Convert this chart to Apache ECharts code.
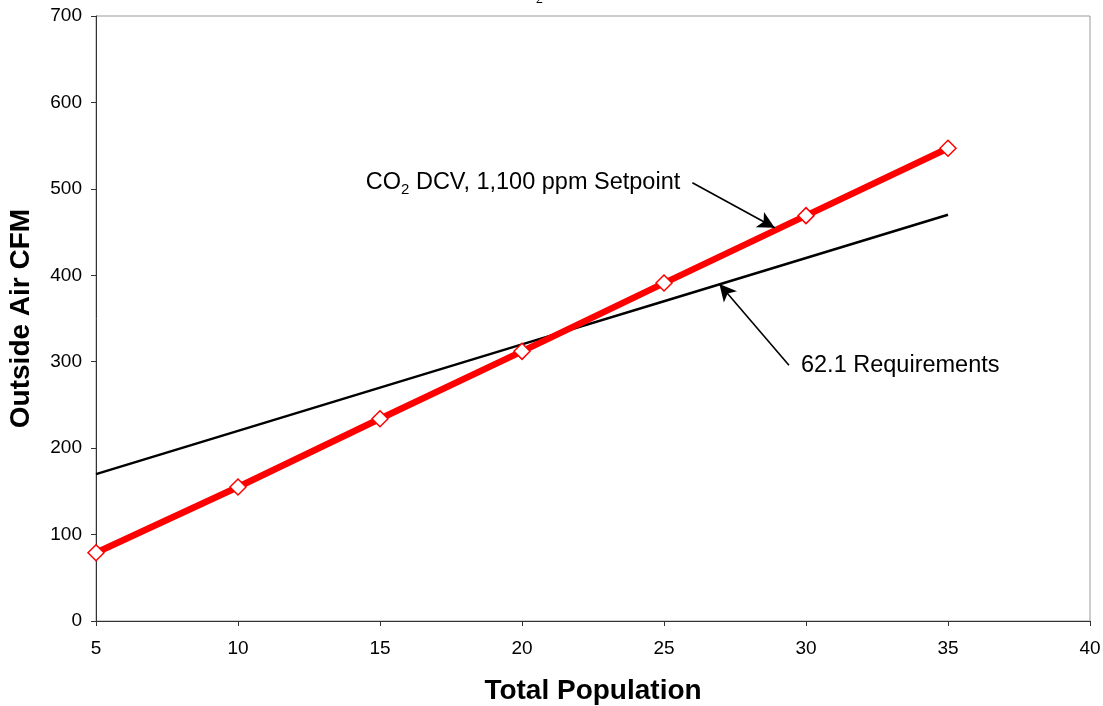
<!DOCTYPE html>
<html><head><meta charset="utf-8">
<script src="https://cdn.jsdelivr.net/npm/echarts@6/dist/echarts.min.js"></script>
<style>html,body{margin:0;padding:0;background:#fff}#c{width:1103px;height:706px}</style>
</head><body><div id="c"></div>
<script>
const population = [5, 10, 15, 20, 25, 30, 35];
const co2DcvCfm = [79, 155, 234, 312, 391, 469, 547];
const req621Cfm = [170, 220, 270, 320, 370, 420, 470];
const yTicks = [0, 100, 200, 300, 400, 500, 600, 700];
const xTicks = [5, 10, 15, 20, 25, 30, 35, 40];
const labelCo2 = {pos: [14.5, 507], arrowFrom: [26.0, 507], arrowTo: [28.9, 455]};
const label621 = {pos: [29.4, 296], arrowFrom: [29.4, 296], arrowTo: [26.95, 390]};

const font = '"Liberation Sans", Arial, sans-serif';
const chart = echarts.init(document.getElementById('c'));
const opt = {
  animation: false,
  backgroundColor: '#fff',
  grid: {left: 96, right: 13, top: 16, bottom: 85, containLabel: false, outerBoundsMode: 'none',
         show: true, borderColor: '#9a9a9a', borderWidth: 1},
  xAxis: {
    type: 'value', min: xTicks[0], max: xTicks[xTicks.length-1], interval: 5,
    name: 'Total Population', nameLocation: 'middle', nameGap: 56,
    nameTextStyle: {fontFamily: font, fontSize: 28, fontWeight: 'bold', color: '#000'},
    axisLine: {lineStyle: {color: '#333', width: 1}},
    axisTick: {show: true, length: 5, lineStyle: {color: '#333'}},
    axisLabel: {fontFamily: font, fontSize: 19, color: '#000', margin: 18},
    splitLine: {show: false}
  },
  yAxis: {
    type: 'value', min: yTicks[0], max: yTicks[yTicks.length-1], interval: 100,
    name: 'Outside Air CFM', nameLocation: 'middle', nameGap: 61,
    nameTextStyle: {fontFamily: font, fontSize: 28, fontWeight: 'bold', color: '#000'},
    axisLine: {show: true, lineStyle: {color: '#333', width: 1}},
    axisTick: {show: true, length: 5, lineStyle: {color: '#333'}},
    axisLabel: {fontFamily: font, fontSize: 19, color: '#000', margin: 14},
    splitLine: {show: false}
  },
  series: [
    {
      name: '62.1 Requirements', type: 'line',
      data: population.map((p, i) => [p, req621Cfm[i]]),
      symbol: 'none', lineStyle: {color: '#000', width: 2.5}, z: 2,
      markLine: {
        silent: true, symbol: ['none', 'arrow'], symbolSize: [13, 17],
        lineStyle: {color: '#000', width: 1.6, type: 'solid'}, label: {show: false},
        data: [[{coord: label621.arrowFrom}, {coord: label621.arrowTo}]]
      }
    },
    {
      name: 'CO2 DCV', type: 'line',
      data: population.map((p, i) => [p, co2DcvCfm[i]]),
      symbol: 'diamond', symbolSize: 16,
      itemStyle: {color: '#fff', borderColor: '#ff0000', borderWidth: 1.5},
      lineStyle: {color: '#ff0000', width: 6.5}, z: 3,
      markLine: {
        silent: true, symbol: ['none', 'arrow'], symbolSize: [13, 17],
        lineStyle: {color: '#000', width: 1.6, type: 'solid'}, label: {show: false},
        data: [[{coord: labelCo2.arrowFrom}, {coord: labelCo2.arrowTo}]]
      }
    }
  ]
};
chart.setOption(opt);
const p1 = chart.convertToPixel({gridIndex: 0}, labelCo2.pos);
const p2 = chart.convertToPixel({gridIndex: 0}, label621.pos);
chart.setOption({
  graphic: [
    {type: 'text', left: 536, top: -8, style: {text: '2', font: '14px "Liberation Serif", serif', fill: '#000'}},
    {type: 'text', x: p1[0], y: p1[1], style: {
      text: '{a|CO}{s|2}{a| DCV, 1,100 ppm Setpoint}', verticalAlign: 'middle', align: 'left',
      rich: {a: {fontFamily: font, fontSize: 23.5, color: '#000'},
             s: {fontFamily: font, fontSize: 15, color: '#000', padding: [14, 0, 0, 0]}}}},
    {type: 'text', x: p2[0] + 12, y: p2[1], style: {
      text: '62.1 Requirements', verticalAlign: 'middle', align: 'left',
      font: '23.5px "Liberation Sans", Arial, sans-serif', fill: '#000'}}
  ]
});
</script></body></html>
